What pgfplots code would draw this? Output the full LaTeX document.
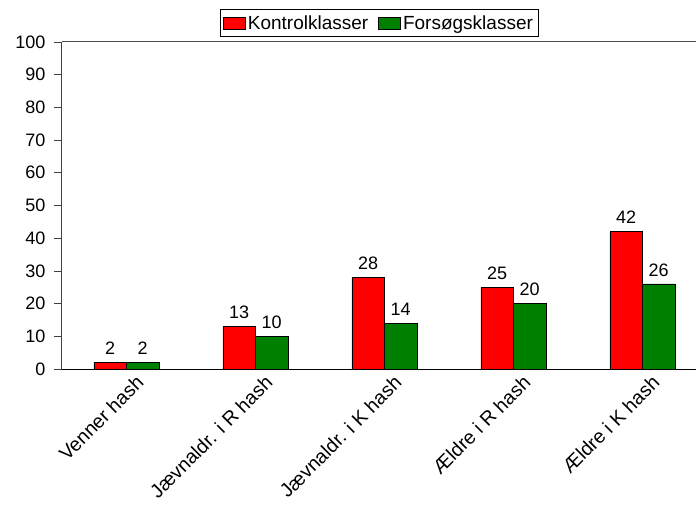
\documentclass[border=0pt]{standalone}
\usepackage{fontspec}
\setmainfont{Liberation Sans}
\usepackage{pgfplots}
\pgfplotsset{compat=1.18}
\definecolor{kred}{RGB}{255,0,0}
\definecolor{kgreen}{RGB}{0,128,0}
\begin{document}
\begin{tikzpicture}
\useasboundingbox (-62bp,-144bp) rectangle (634bp,369bp);
\begin{axis}[
  at={(0,0)}, anchor=south west,
  scale only axis, width=634bp, height=327bp,
  ybar=0pt, bar width=32.5bp,
  enlargelimits=false,
  xmin=-0.5, xmax=4.415, ymin=0, ymax=100,
  ytick={0,10,...,100},
  xtick={0,1,2,3,4},
  xticklabels={Venner hash, Jævnaldr. i R hash, Jævnaldr. i K hash, Ældre i R hash, Ældre i K hash},
  x tick label style={rotate=45, anchor=east, font=\fontsize{19.5bp}{21bp}\selectfont, inner sep=2bp, xshift=10bp, yshift=-11bp},
  y tick label style={font=\fontsize{18bp}{20bp}\selectfont, xshift=-5bp},
  /pgf/number format/assume math mode=true,
  xtick style={draw=none},
  ytick style={draw=black!75, line width=0.8bp},
  tick align=outside, major tick length=8bp,
  axis x line*=bottom, axis y line*=left,
  x axis line style={line width=1bp, black},
  y axis line style={line width=1bp, black!75},
  nodes near coords,
  every node near coord/.append style={font=\fontsize{18bp}{20bp}\selectfont, black, yshift=4bp},
  legend style={at={(0.5,1)}, anchor=south, yshift=5bp, legend columns=2, draw=black, line width=0.8bp,
    font=\fontsize{19bp}{21bp}\selectfont, inner xsep=3bp, inner ysep=4bp,
    /tikz/every even column/.append style={column sep=8bp}},
  legend image code/.code={\draw[#1, draw=black, line width=0.8bp] (0bp,-6bp) rectangle (22bp,6bp);},
]
\addplot[fill=kred, draw=black, line width=0.8bp] coordinates {(0,2) (1,13) (2,28) (3,25) (4,42)};
\addplot[fill=kgreen, draw=black, line width=0.8bp] coordinates {(0,2) (1,10) (2,14) (3,20) (4,26)};
\legend{Kontrolklasser, Forsøgsklasser}
\draw[black!70, line width=1bp] (rel axis cs:0,1) -- (rel axis cs:1,1);
\end{axis}
\end{tikzpicture}
\end{document}
